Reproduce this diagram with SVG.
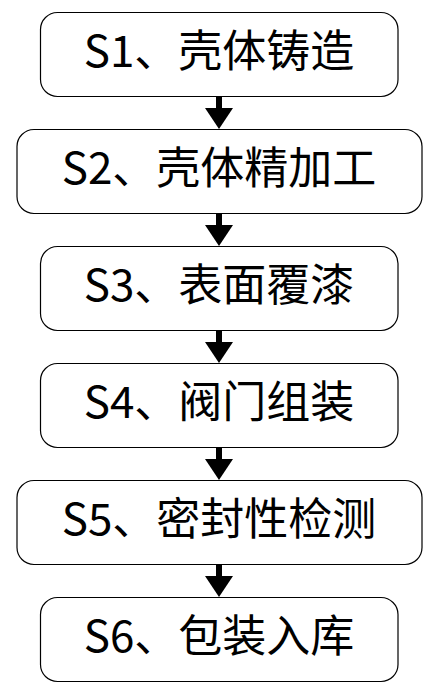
<svg xmlns="http://www.w3.org/2000/svg" width="436" height="696" viewBox="0 0 436 696">
<defs>
<style>
.box{fill:#fff;stroke:#000;stroke-width:1.2}
.lbl{font-family:"Noto Sans CJK SC","Noto Sans",sans-serif;font-size:44px;fill:#000;text-anchor:middle}
.conn{stroke:#000;stroke-width:6;fill:none;marker-end:url(#ah)}
</style>
<marker id="ah" markerUnits="userSpaceOnUse" markerWidth="22" markerHeight="28" refX="1" refY="14" orient="auto" overflow="visible">
<path d="M0,0 L21,14 L0,28 Z" fill="#000"/>
</marker>
</defs>
<rect width="436" height="696" fill="#fff"/>
<g id="connectors">
<line class="conn" x1="219" y1="96.5" x2="219" y2="109"/>
<line class="conn" x1="219" y1="213" x2="219" y2="226"/>
<line class="conn" x1="219" y1="330" x2="219" y2="343"/>
<line class="conn" x1="219" y1="447" x2="219" y2="460"/>
<line class="conn" x1="219" y1="564" x2="219" y2="577"/>
</g>
<g id="s1"><rect class="box" x="40.5" y="12.5" width="357.5" height="84" rx="17"/><text class="lbl" x="219" y="67">S1、壳体铸造</text></g>
<g id="s2"><rect class="box" x="17" y="129.5" width="405" height="84" rx="17"/><text class="lbl" x="219" y="184">S2、壳体精加工</text></g>
<g id="s3"><rect class="box" x="40.5" y="246.5" width="357.5" height="84" rx="17"/><text class="lbl" x="219" y="301">S3、表面覆漆</text></g>
<g id="s4"><rect class="box" x="40.5" y="363.5" width="357.5" height="84" rx="17"/><text class="lbl" x="219" y="418">S4、阀门组装</text></g>
<g id="s5"><rect class="box" x="17" y="480.5" width="405" height="84" rx="17"/><text class="lbl" x="219" y="535">S5、密封性检测</text></g>
<g id="s6"><rect class="box" x="40.5" y="597.5" width="357.5" height="84" rx="17"/><text class="lbl" x="219" y="652">S6、包装入库</text></g>
</svg>
